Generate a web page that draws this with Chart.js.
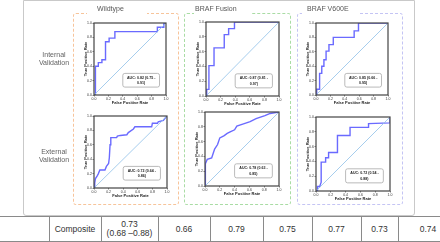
<!DOCTYPE html>
<html>
<head>
<meta charset="utf-8">
<script src="https://cdn.jsdelivr.net/npm/chart.js@4.4.1/dist/chart.umd.min.js"></script>
<style>
  body { margin:0; width:440px; height:242px; overflow:hidden; background:#fff; position:relative; font-family:"Liberation Sans", Arial, sans-serif; }
  .abs { position:absolute; }
  .figbox { left:23px; top:0; width:392px; height:216px; box-sizing:border-box; border:1px solid #c9c9c9; border-radius:0 0 3px 3px; }
  .dash { top:13px; height:192px; box-sizing:border-box; border:1px dashed; border-radius:3px; }
  .gap { top:11px; height:5px; background:#fff; }
  .head { top:5px; font-size:7px; color:#555; white-space:nowrap; will-change:transform; opacity:0.99; }
  .rowlab { font-size:7px; color:#5f5f5f; text-align:center; line-height:7.6px; width:60px; will-change:transform; opacity:0.99; }
  table { position:absolute; left:0; top:216px; border-collapse:collapse; table-layout:fixed; font-size:8.5px; color:#333; }
  td { border:1px solid #8a8a8a; height:24px; padding:0; text-align:center; line-height:9px; }
  td:first-child { border-left:none; }
</style>
</head>
<body>
<div class="abs figbox"></div>
<div id="frame"></div>
<script>
// tick values shared by every ROC panel
const tickValues = [0.0, 0.2, 0.4, 0.6, 0.8, 1.0];
const diagX = [0, 1];
const diagY = [0, 1];

const columnNames = ['Wildtype', 'BRAF Fusion', 'BRAF V600E'];
const rowNames = [['Internal', 'Validation'], ['External', 'Validation']];

// Wildtype
const wtIntFpr = [0, 0.02, 0.02, 0.06, 0.06, 0.11, 0.11, 0.16, 0.16, 0.21, 0.21, 0.29, 0.29, 0.88, 0.88, 0.97, 0.97, 1.0];
const wtIntTpr = [0, 0.00, 0.40, 0.40, 0.45, 0.45, 0.49, 0.49, 0.74, 0.74, 0.79, 0.79, 0.88, 0.88, 0.94, 0.94, 0.99, 1.0];
const wtExtFpr = [0, 0.01, 0.02, 0.04, 0.06, 0.08, 0.15, 0.17, 0.20, 0.21, 0.22, 0.23, 0.31, 0.32, 0.36, 0.45, 0.47, 0.54, 0.56, 0.79, 0.80, 0.87, 0.88, 0.95, 1.0];
const wtExtTpr = [0, 0.07, 0.13, 0.16, 0.20, 0.25, 0.25, 0.30, 0.34, 0.42, 0.60, 0.70, 0.70, 0.72, 0.73, 0.74, 0.77, 0.82, 0.85, 0.85, 0.90, 0.90, 0.92, 0.94, 1.0];

// BRAF Fusion
const bfIntFpr = [0, 0.01, 0.01, 0.04, 0.04, 0.11, 0.11, 0.25, 0.25, 0.31, 0.31, 0.39, 0.39, 1.0];
const bfIntTpr = [0, 0.00, 0.09, 0.09, 0.41, 0.41, 0.65, 0.65, 0.83, 0.83, 0.91, 0.91, 1.00, 1.0];
const bfExtFpr = [0, 0.00, 0.01, 0.03, 0.09, 0.11, 0.13, 0.17, 0.20, 0.26, 0.30, 0.34, 0.40, 0.43, 0.52, 0.61, 0.69, 0.81, 0.88, 1.0];
const bfExtTpr = [0, 0.10, 0.30, 0.36, 0.38, 0.44, 0.50, 0.56, 0.65, 0.68, 0.71, 0.73, 0.76, 0.81, 0.84, 0.87, 0.91, 0.95, 0.98, 1.0];

// BRAF V600E
const v6IntFpr = [0, 0.01, 0.01, 0.05, 0.05, 0.08, 0.08, 0.11, 0.11, 0.14, 0.14, 0.18, 0.18, 0.24, 0.24, 0.53, 0.53, 0.59, 0.59, 1.0];
const v6IntTpr = [0, 0.00, 0.08, 0.08, 0.30, 0.30, 0.40, 0.40, 0.49, 0.49, 0.61, 0.61, 0.70, 0.70, 0.80, 0.80, 0.89, 0.89, 1.00, 1.0];
const v6ExtFpr = [0, 0.02, 0.02, 0.05, 0.07, 0.07, 0.13, 0.13, 0.17, 0.17, 0.29, 0.29, 0.46, 0.46, 0.71, 0.71, 1.0, 1.0];
const v6ExtTpr = [0, 0.00, 0.06, 0.06, 0.12, 0.39, 0.39, 0.45, 0.45, 0.52, 0.52, 0.75, 0.75, 0.86, 0.86, 0.91, 0.92, 1.0];

const aucTexts = [
  ['AUC: 0.82 (0.75 -', '0.91)'],
  ['AUC: 0.87 (0.81 -', '0.97)'],
  ['AUC: 0.85 (0.66 -', '0.95)'],
  ['AUC: 0.72 (0.64 -', '0.86)'],
  ['AUC: 0.78 (0.63 -', '0.85)'],
  ['AUC: 0.72 (0.54 -', '0.88)']
];

const tableCells = ['', 'Composite', ['0.73', '(0.68 \u20130.88)'], '0.66', '0.79', '0.75', '0.77', '0.73', '0.74'];

// layout only below here
const panels = [
  { fpr: wtIntFpr, tpr: wtIntTpr, auc: aucTexts[0], box: [94, 23, 72, 72] },
  { fpr: bfIntFpr, tpr: bfIntTpr, auc: aucTexts[1], box: [206, 22, 73, 74] },
  { fpr: v6IntFpr, tpr: v6IntTpr, auc: aucTexts[2], box: [316, 23, 72, 72] },
  { fpr: wtExtFpr, tpr: wtExtTpr, auc: aucTexts[3], box: [94, 116, 73, 72] },
  { fpr: bfExtFpr, tpr: bfExtTpr, auc: aucTexts[4], box: [205, 112, 74, 74] },
  { fpr: v6ExtFpr, tpr: v6ExtTpr, auc: aucTexts[5], box: [316, 117, 74, 74] }
];

const frame = document.getElementById('frame');
function addDiv(cls, css, html) {
  const d = document.createElement('div');
  d.className = 'abs ' + cls;
  d.style.cssText = css;
  if (html !== undefined) d.innerHTML = html;
  frame.appendChild(d);
  return d;
}

// dashed column boxes, with a gap in the top edge where the header sits
const dashBoxes = [
  { l: 73, w: 106, c: '#f7c49a', gap: [87, 60] },
  { l: 184, w: 107, c: '#a9dca4', gap: [194, 57] },
  { l: 297, w: 106, c: '#c4c4f4', gap: [302, 56] }
];
dashBoxes.forEach(b => {
  addDiv('dash', `left:${b.l}px;width:${b.w}px;border-color:${b.c};`);
  addDiv('gap', `left:${b.gap[0]}px;width:${b.gap[1]}px;`);
});
const headLeft = [97, 195, 307];
columnNames.forEach((n, i) => addDiv('head', `left:${headLeft[i]}px;`, n));

const rowTop = [51, 148];
rowNames.forEach((r, i) => addDiv('rowlab', `left:24px;top:${rowTop[i]}px;`, r.join('<br>')));

// frame around the plot area (matplotlib style box)
const framePlugin = {
  id: 'framePlugin',
  afterDatasetsDraw(chart) {
    const a = chart.chartArea, ctx = chart.ctx;
    ctx.save();
    ctx.strokeStyle = '#444';
    ctx.lineWidth = 1.2;
    ctx.strokeRect(a.left, a.top, a.right - a.left, a.bottom - a.top);
    ctx.restore();
  }
};

const aucPlugin = {
  id: 'aucBox',
  afterDatasetsDraw(chart, args, opts) {
    const a = chart.chartArea, ctx = chart.ctx;
    const w = a.right - a.left, h = a.bottom - a.top;
    const x0 = a.left + 0.40 * w, x1 = a.left + 0.91 * w;
    const y0 = a.top + 0.70 * h, y1 = a.top + 0.89 * h;
    ctx.save();
    ctx.beginPath();
    ctx.roundRect(x0, y0, x1 - x0, y1 - y0, 2);
    ctx.fillStyle = 'rgba(255,255,255,0.9)';
    ctx.fill();
    ctx.strokeStyle = '#a8a8a8';
    ctx.lineWidth = 0.8;
    ctx.stroke();
    ctx.fillStyle = '#222';
    ctx.font = 'bold 3.6px "Liberation Sans", Arial, sans-serif';
    ctx.textAlign = 'center';
    ctx.textBaseline = 'middle';
    const cx = (x0 + x1) / 2;
    ctx.fillText(opts.lines[0], cx, y0 + 0.32 * (y1 - y0));
    ctx.fillText(opts.lines[1], cx, y0 + 0.70 * (y1 - y0));
    ctx.restore();
  }
};

function axis(titleText, isX) {
  return {
    type: 'linear',
    min: 0,
    max: 1,
    afterBuildTicks: s => { s.ticks = tickValues.map(v => ({ value: v })); },
    afterFit: s => { if (isX) s.height = 11; else s.width = 12; },
    grid: { display: true, drawOnChartArea: false, drawTicks: true, tickLength: 1.5, color: '#333', lineWidth: 0.6 },
    border: { display: false },
    ticks: {
      font: { size: 3.5, family: '"Liberation Sans", Arial, sans-serif' },
      color: '#333', padding: 0.6, maxRotation: 0, autoSkip: false,
      callback: v => Number(v).toFixed(1)
    },
    title: {
      display: true, text: titleText, color: '#222',
      font: { size: 4, weight: 'bold', family: '"Liberation Sans", Arial, sans-serif' },
      padding: isX ? { top: 0, bottom: 1 } : { top: 1, bottom: 0 }
    }
  };
}

panels.forEach(p => {
  const [pl, pt, pw, ph] = p.box;
  const c = document.createElement('canvas');
  const cw = 12 + pw + 4, ch = 3 + ph + 11;
  c.width = cw; c.height = ch;
  c.style.cssText = `position:absolute;left:${pl - 12}px;top:${pt - 3}px;width:${cw}px;height:${ch}px;`;
  frame.appendChild(c);
  new Chart(c, {
    type: 'line',
    data: {
      datasets: [
        {
          data: diagX.map((x, i) => ({ x: x, y: diagY[i] })),
          borderColor: '#8fc0e8', borderWidth: 0.8, pointRadius: 0
        },
        {
          data: p.fpr.map((x, i) => ({ x: x, y: p.tpr[i] })),
          borderColor: 'rgba(90,90,255,0.9)', borderWidth: 1.4, pointRadius: 0, tension: 0
        }
      ]
    },
    options: {
      responsive: false,
      animation: false,
      devicePixelRatio: 1,
      layout: { padding: { top: 3, right: 4, left: 0, bottom: 0 } },
      plugins: { legend: { display: false }, tooltip: { enabled: false }, aucBox: { lines: p.auc } },
      scales: { x: axis('False Positive Rate', true), y: axis('True Positive Rate', false) }
    },
    plugins: [framePlugin, aucPlugin]
  });
});

// composite table
const colWidths = [49, 52, 57, 52, 53, 49, 49, 37, 60];
const table = document.createElement('table');
const cg = document.createElement('colgroup');
colWidths.forEach(w => { const col = document.createElement('col'); col.style.width = w + 'px'; cg.appendChild(col); });
table.appendChild(cg);
table.style.width = colWidths.reduce((a, b) => a + b, 0) + 'px';
const tr = document.createElement('tr');
tableCells.forEach(v => {
  const td = document.createElement('td');
  td.innerHTML = Array.isArray(v) ? v.join('<br>') : v;
  tr.appendChild(td);
});
table.appendChild(tr);
document.body.appendChild(table);
</script>
</body>
</html>
